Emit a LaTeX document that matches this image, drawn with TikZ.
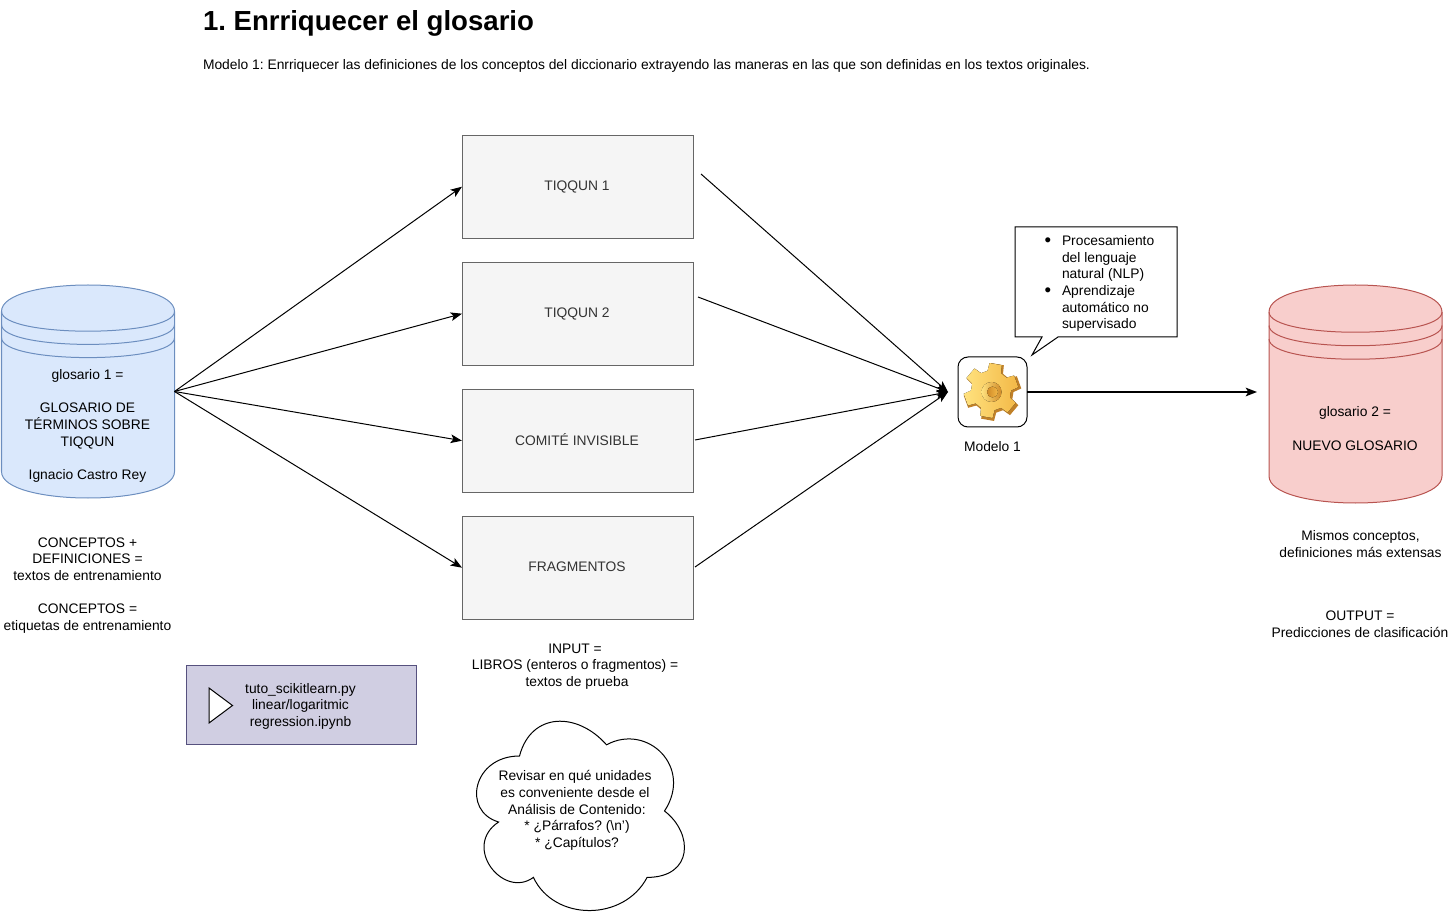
\documentclass[tikz,border=0pt]{standalone}
\usepackage{fontspec}
\setmainfont{Liberation Sans}
\usepackage{xcolor}
\usetikzlibrary{shapes,arrows.meta,positioning,calc}

\definecolor{dbblue}{HTML}{DAE8FC}
\definecolor{dbblueline}{HTML}{6C8EBF}
\definecolor{dbred}{HTML}{F8CECC}
\definecolor{dbredline}{HTML}{B85450}
\definecolor{bookfill}{HTML}{F5F5F5}
\definecolor{bookline}{HTML}{666666}
\definecolor{booktext}{HTML}{333333}
\definecolor{scriptfill}{HTML}{D0CEE2}
\definecolor{scriptline}{HTML}{56517E}
\definecolor{gearlight}{HTML}{FFE27F}
\definecolor{gearmid}{HTML}{F3B846}
\definecolor{geardark}{HTML}{D08A28}
\definecolor{gearback}{HTML}{C08028}

% draws the data store round an empty node: name, style, dy
\newcommand{\drawstore}[3]{
    \path[#2] ($(#1.north west)+(0,#3)$) .. controls ($(#1.north west)+(0,-#3/3)$) and ($(#1.north east)+(0,-#3/3)$) .. ($(#1.north east)+(0,#3)$)
        -- ($(#1.south east)+(0,-#3)$) .. controls ($(#1.south east)+(0,#3/3)$) and ($(#1.south west)+(0,#3/3)$) .. ($(#1.south west)+(0,-#3)$) -- cycle;
    \foreach \k in {1,1.5,2}
        \draw[#2, fill=none] ($(#1.north west)+(0,\k*#3)$) .. controls ($(#1.north west)+(0,\k*#3+#3)$) and ($(#1.north east)+(0,\k*#3+#3)$) .. ($(#1.north east)+(0,\k*#3)$);
}

\begin{document}
\begin{tikzpicture}[x=0.75pt, y=-0.75pt, outer sep=0pt,
        txt/.style={inner sep=0pt, align=center, text=black, font=\fontsize{10.37}{12.5}\selectfont\frenchspacing},
        bookblock/.style={rectangle, draw=bookline, fill=bookfill, line width=0.75pt, minimum width=173.25pt, minimum height=77.5pt},
        booktxt/.style={txt, text=booktext},
        storeblock/.style={rectangle, inner sep=0pt},
        bluestore/.style={draw=dbblueline, fill=dbblue, line width=0.75pt},
        redstore/.style={draw=dbredline, fill=dbred, line width=0.75pt},
        arrow/.style={-{Stealth[length=8.5pt,width=6.5pt,inset=2pt]}, line width=0.75pt},
        thickarrow/.style={-{Stealth[length=8.5pt,width=6.5pt,inset=2pt]}, line width=1.2pt}]
        \useasboundingbox (0,0) rectangle (1452,912);

        % Heading
        \node[anchor=west, inner sep=0pt, font=\fontsize{20.68}{25}\selectfont\bfseries\frenchspacing] (title) at (203,23) {1. Enrriquecer el glosario};
        \node[txt, anchor=west] (subtitle) at (203,66) {Modelo 1: Enrriquecer las definiciones de los conceptos del diccionario extrayendo las maneras en las que son definidas en los textos originales.};

        % Input store
        \node[storeblock, minimum width=129.75pt, minimum height=159.75pt] (db1) at (88,391.5) {};
        \drawstore{db1}{bluestore}{26.4}
        \node[txt] (db1txt) at (87.5,426) {glosario 1 =\\[12.5pt]GLOSARIO DE\\TÉRMINOS SOBRE\\TIQQUN\\[12.5pt]Ignacio Castro Rey};
        \node[txt] (db1note) at (87.5,585.5) {CONCEPTOS +\\DEFINICIONES =\\textos de entrenamiento\\[12.5pt]CONCEPTOS =\\etiquetas de entrenamiento};

        % Books column
        \node[bookblock] (t1) at (577.5,186.7) {};
        \node[bookblock, below=17.75pt of t1] (t2) {};
        \node[bookblock, below=17.75pt of t2] (ci) {};
        \node[bookblock, below=17.75pt of ci] (fr) {};
        \node[booktxt] (t1txt) at (577,187) {TIQQUN 1};
        \node[booktxt] (t2txt) at (577,314) {TIQQUN 2};
        \node[booktxt] (citxt) at (577,439.5) {COMITÉ INVISIBLE};
        \node[booktxt] (frtxt) at (577,567) {FRAGMENTOS};
        \node[txt] (bookstxt) at (575,666.5) {INPUT =\\LIBROS (enteros o fragmentos) =\\\hspace*{3pt}textos de prueba};

        % Script box
        \node[rectangle, draw=scriptline, fill=scriptfill, line width=0.75pt, minimum width=172.5pt, minimum height=59.25pt] (script) at (301,705.25) {};
        \node[txt] (scripttxt) at (300.5,706.2) {tuto\_scikitlearn.py\\linear/logaritmic\\regression.ipynb};
        \coordinate (p1) at (209,688);
        \coordinate (p2) at (232.5,705.5);
        \coordinate (p3) at (209,723);
        \draw[fill=white, line width=0.75pt] (p1) -- (p2) -- (p3) -- cycle;

        % Cloud
        \draw[line width=0.75pt, fill=white] (519.5,756) .. controls (473,756) and (461.5,811) .. (498.6,822)
            .. controls (461.5,846.5) and (503.3,899.5) .. (533.4,877.4)
            .. controls (554.3,921.6) and (623.9,921.6) .. (647.1,877.4)
            .. controls (693.5,877.4) and (693.5,833.2) .. (664.5,811)
            .. controls (693.5,766.9) and (647.1,722.7) .. (606.5,744.8)
            .. controls (577.5,711.7) and (531.1,711.7) .. (519.5,756) -- cycle;
        \node[txt] (cloudtxt) at (575,810.5) {Revisar en qué unidades\\es conveniente desde el\\\hspace*{3pt}Análisis de Contenido:\\\hspace*{3pt}* ¿Párrafos? (\textbackslash n')\\\hspace*{3pt}* ¿Capítulos?};

        % Model
        \node[rectangle, draw=black, fill=white, rounded corners=7.5pt, line width=0.75pt, minimum width=51.75pt, minimum height=52.5pt] (model) at (992.5,392) {};
        \begin{scope}[shift={(992.5,392)}]
            \fill[gearback] (-100:21) \foreach \a in {-80,-20,40,100,160,220} { -- (\a-20:21) -- (\a-13:29) -- (\a+13:29) -- (\a+20:21) } -- cycle;
            \fill[left color=gearlight, right color=gearmid, shift={(-1.5,-1.5)}] (-100:20) \foreach \a in {-80,-20,40,100,160,220} { -- (\a-20:20) -- (\a-13:27.5) -- (\a+13:27.5) -- (\a+20:20) } -- cycle;
            \fill[left color=gearlight, right color=geardark] (-1,0) circle (10);
            \fill[left color=geardark, right color=gearmid] (0,0) circle (5.5);
        \end{scope}
        \node[txt] (modeltxt) at (992.5,447) {Modelo 1};

        % Callout
        \coordinate (c1) at (1015,227);
        \coordinate (c2) at (1177,227);
        \coordinate (c3) at (1177,337);
        \coordinate (c4) at (1058,337);
        \coordinate (c5) at (1032,355);
        \coordinate (c6) at (1042,337);
        \coordinate (c7) at (1015,337);
        \draw[fill=white, line width=0.75pt] (c1) -- (c2) -- (c3) -- (c4) -- (c5) -- (c6) -- (c7) -- cycle;
        \node[txt, align=left, anchor=north west] (calltxt) at (1062,235.4) {Procesamiento\\del lenguaje\\natural (NLP)\\Aprendizaje\\automático no\\supervisado};
        \node[txt, font=\fontsize{14}{14}\selectfont] (bullet1) at (1048,242) {•};
        \node[txt, font=\fontsize{14}{14}\selectfont] (bullet2) at (1048,292) {•};

        % Output store
        \node[storeblock, minimum width=129.75pt, minimum height=163.5pt] (db2) at (1355.5,394) {};
        \drawstore{db2}{redstore}{27}
        \node[txt] (db2txt) at (1355,428.5) {glosario 2 =\\[12.5pt]NUEVO GLOSARIO};
        \node[txt] (db2note) at (1360.5,544) {Mismos conceptos,\\definiciones más extensas};
        \node[txt] (db2out) at (1360,624.5) {OUTPUT =\\Predicciones de clasificación};

        % Free ends
        \coordinate (t1out) at (701,174);
        \coordinate (t2out) at (698,297);
        \coordinate (ciout) at (695,440);
        \coordinate (frout) at (695,567);
        \coordinate (modelin) at (948,392);
        \coordinate (modelout) at (1257,392);

        % Connections
        \draw[arrow] (db1.east) -- (t1.west);
        \draw[arrow] (db1.east) -- (t2.west);
        \draw[arrow] (db1.east) -- (ci.west);
        \draw[arrow] (db1.east) -- (fr.west);
        \draw[arrow] (t1out) -- (modelin);
        \draw[arrow] (t2out) -- (modelin);
        \draw[arrow] (ciout) -- (modelin);
        \draw[arrow] (frout) -- (modelin);
        \draw[thickarrow] (model.east) -- (modelout);
    \end{tikzpicture}
\end{document}
